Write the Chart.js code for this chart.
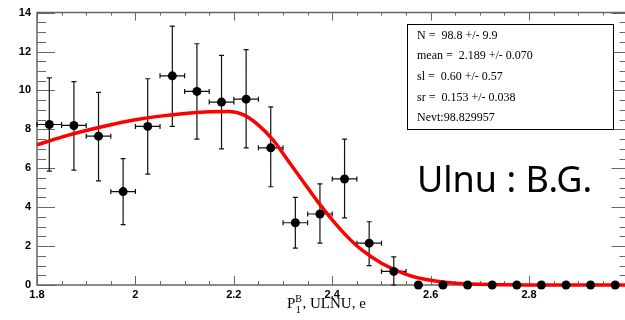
<!DOCTYPE html>
<html>
<head>
<meta charset="utf-8">
<script src="https://cdn.jsdelivr.net/npm/chart.js@4.4.1/dist/chart.umd.min.js"></script>
<style>
    html, body { margin: 0; padding: 0; background: #fff; overflow: hidden; }
    #wrap { width: 632px; height: 320px; }
</style>
</head>
<body>
<div id="wrap"><canvas id="fitChart" width="632" height="320"></canvas></div>
<script>
// bin centres and contents
const binX = [1.825, 1.875, 1.925, 1.975, 2.025, 2.075, 2.125, 2.175, 2.225, 2.275, 2.325, 2.375,
              2.425, 2.475, 2.525, 2.575, 2.625, 2.675, 2.725, 2.775, 2.825, 2.875, 2.925, 2.975];
const counts = [8.25, 8.2, 7.65, 4.8, 8.15, 10.75, 9.95, 9.4, 9.55, 7.05, 3.2, 3.65,
                5.45, 2.15, 0.7, 0, 0, 0, 0, 0, 0, 0, 0, 0];
const errUp = [10.65, 10.45, 9.9, 6.5, 10.6, 13.3, 12.4, 11.8, 12.1, 9.15, 4.5, 5.2,
               7.5, 3.25, 1.45, null, null, null, null, null, null, null, null, null];
const errDown = [5.85, 5.9, 5.35, 3.1, 5.7, 8.15, 7.5, 7.0, 7.05, 5.05, 1.9, 2.15,
                 3.45, 1.0, 0, null, null, null, null, null, null, null, null, null];
const binHalf = 0.025;

// fitted curve, sampled from the red line
const fitX = [1.80, 1.85, 1.90, 1.95, 2.00, 2.05, 2.10, 2.15, 2.19, 2.22, 2.25, 2.28, 2.31, 2.34,
              2.37, 2.40, 2.43, 2.46, 2.50, 2.55, 2.60, 2.65, 2.70, 2.75, 2.80, 2.90, 3.00];
const fitY = [7.2, 7.6, 7.94, 8.24, 8.49, 8.68, 8.82, 8.9, 8.92, 8.74, 8.22, 7.45, 6.4, 5.35,
              4.3, 3.35, 2.5, 1.8, 1.12, 0.55, 0.24, 0.095, 0.034, 0.01, 0, 0, 0];

const xTicks = [1.8, 2.0, 2.2, 2.4, 2.6, 2.8, 3.0];
const yTicks = [0, 2, 4, 6, 8, 10, 12, 14];

const statLines = [
    "N =  98.8 +/- 9.9",
    "mean =  2.189 +/- 0.070",
    "sl =  0.60 +/- 0.57",
    "sr =  0.153 +/- 0.038",
    "Nevt:98.829957"
];

// frame with inward ticks, like the ROOT style
const framePlugin = {
    id: "frame",
    beforeDatasetsDraw: function (chart) {
        const ctx = chart.ctx;
        const a = chart.chartArea;
        const xs = chart.scales.x;
        const ys = chart.scales.y;
        ctx.save();
        ctx.strokeStyle = "#666";
        ctx.lineWidth = 1.5;
        ctx.beginPath();
        ctx.rect(a.left, a.top, a.right - a.left, a.bottom - a.top);
        ctx.stroke();

        ctx.lineWidth = 1;
        ctx.beginPath();
        for (let v = 1.8; v <= 3.0001; v += 0.05) {
            const px = Math.round(xs.getPixelForValue(v)) + 0.5;
            const major = Math.abs(v * 5 - Math.round(v * 5)) < 1e-6;
            ctx.moveTo(px, a.bottom);
            ctx.lineTo(px, a.bottom - (major ? 9 : 4));
            ctx.moveTo(px, a.top);
            ctx.lineTo(px, a.top + (major ? 8 : 3));
        }
        for (let v = 0; v <= 14.0001; v += 0.5) {
            const py = Math.round(ys.getPixelForValue(v)) + 0.5;
            const major = Math.abs(v / 2 - Math.round(v / 2)) < 1e-6;
            ctx.moveTo(a.left, py);
            ctx.lineTo(a.left + (major ? 18 : 9), py);
            ctx.moveTo(a.right, py);
            ctx.lineTo(a.right - (major ? 16 : 8), py);
        }
        ctx.stroke();

        // error bars
        ctx.strokeStyle = "#111";
        ctx.lineWidth = 1.2;
        ctx.beginPath();
        binX.forEach(function (bx, i) {
            if (errUp[i] === null) return;
            const px = xs.getPixelForValue(bx);
            const py = ys.getPixelForValue(counts[i]);
            const pl = xs.getPixelForValue(bx - binHalf);
            const pr = xs.getPixelForValue(bx + binHalf);
            const pt = ys.getPixelForValue(errUp[i]);
            const pb = ys.getPixelForValue(errDown[i]);
            ctx.moveTo(px, pt); ctx.lineTo(px, pb);
            ctx.moveTo(pl, py); ctx.lineTo(pr, py);
            ctx.moveTo(px - 2.5, pt); ctx.lineTo(px + 2.5, pt);
            ctx.moveTo(px - 2.5, pb); ctx.lineTo(px + 2.5, pb);
            ctx.moveTo(pl, py - 2.5); ctx.lineTo(pl, py + 2.5);
            ctx.moveTo(pr, py - 2.5); ctx.lineTo(pr, py + 2.5);
        });
        ctx.stroke();
        ctx.restore();
    },
    afterDraw: function (chart) {
        const ctx = chart.ctx;
        ctx.save();
        // stats box
        ctx.fillStyle = "#fff";
        ctx.fillRect(407, 24, 206, 105);
        ctx.strokeStyle = "#000";
        ctx.lineWidth = 1;
        ctx.strokeRect(407.5, 24.5, 206, 105);
        ctx.fillStyle = "#000";
        ctx.font = "12px 'Liberation Serif'";
        ctx.textBaseline = "middle";
        statLines.forEach(function (t, i) {
            ctx.fillText(t, 417, 35.5 + i * 20.7);
        });

        // label
        ctx.font = "36px 'Noto Sans'";
        ctx.fillText("Ulnu : B.G.", 417, 182);

        // axis title P_1^B, ULNU, e
        ctx.textBaseline = "alphabetic";
        ctx.font = "15px 'Liberation Serif'";
        let x0 = 287;
        ctx.fillText("P", x0, 308);
        x0 += ctx.measureText("P").width;
        ctx.font = "10px 'Liberation Serif'";
        ctx.fillText("B", x0, 302);
        ctx.fillText("1", x0 + 0.5, 313);
        x0 += ctx.measureText("B").width + 0.5;
        ctx.font = "15px 'Liberation Serif'";
        ctx.fillText(", ULNU, e", x0, 308);
        ctx.restore();
    }
};

const ctx = document.getElementById("fitChart").getContext("2d");
const chart = new Chart(ctx, {
    type: "scatter",
    data: {
        datasets: [
            {
                data: binX.map((x, i) => ({ x: x, y: counts[i] })),
                pointRadius: 4.5,
                pointBackgroundColor: "#000",
                pointBorderWidth: 0,
                order: 0,
                clip: false,
            },
            {
                data: fitX.map((x, i) => ({ x: x, y: fitY[i] })),
                showLine: true,
                borderColor: "#ff0000",
                borderWidth: 3.5,
                pointRadius: 0,
                cubicInterpolationMode: "monotone",
                order: 1,
                clip: false,
            },
        ],
    },
    options: {
        responsive: false,
        animation: false,
        layout: { padding: { left: 0, top: 8, right: 4, bottom: 0 } },
        plugins: { legend: { display: false }, tooltip: { enabled: false } },
        scales: {
            x: {
                type: "linear",
                min: 1.8,
                max: 3.0,
                afterBuildTicks: function (s) { s.ticks = xTicks.map(v => ({ value: v })); },
                afterFit: function (s) { s.height = 35; },
                grid: { display: false, drawTicks: false },
                border: { display: false },
                ticks: {
                    padding: 3,
                    maxRotation: 0,
                    autoSkip: false,
                    color: "#000",
                    font: { family: "Liberation Sans", weight: "bold", size: 11 },
                    callback: function (v) { return v > 2.9 ? "" : String(Math.round(v * 10) / 10); },
                },
            },
            y: {
                min: 0,
                max: 14,
                afterBuildTicks: function (s) { s.ticks = yTicks.map(v => ({ value: v })); },
                afterFit: function (s) { s.width = 37; },
                grid: { display: false, drawTicks: false },
                border: { display: false },
                ticks: {
                    padding: 6,
                    color: "#000",
                    font: { family: "Liberation Sans", weight: "bold", size: 11 },
                    callback: function (v) { return String(v); },
                },
            },
        },
    },
    plugins: [framePlugin],
});
</script>
</body>
</html>
